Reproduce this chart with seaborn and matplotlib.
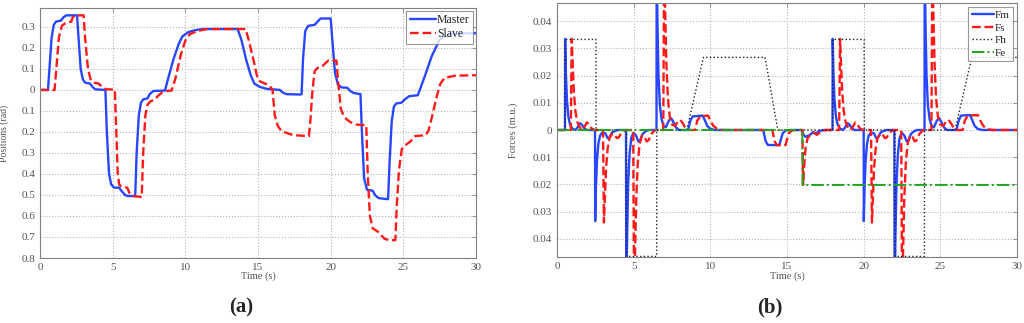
import matplotlib
matplotlib.use("Agg")
import matplotlib.pyplot as plt
import seaborn as sns

# ==================== DATA ====================
# (time [s], value) vertices

master_pts = [
    (0, 0), (0.55, 0), (0.65, 0.1), (0.8, 0.25), (0.95, 0.31), (1.1, 0.325),
    (1.45, 0.33), (1.6, 0.345), (1.8, 0.355), (2.55, 0.355), (2.65, 0.25),
    (2.8, 0.1), (2.95, 0.05), (3.1, 0.035), (3.45, 0.03), (3.6, 0.015),
    (3.8, 0.003), (4.5, 0), (4.6, -0.2), (4.75, -0.4), (4.9, -0.45),
    (5.1, -0.465), (5.45, -0.465), (5.6, -0.48), (5.85, -0.5), (6.0, -0.505),
    (6.55, -0.505), (6.65, -0.3), (6.8, -0.12), (6.95, -0.06), (7.1, -0.045),
    (7.4, -0.04), (7.55, -0.02), (7.8, -0.005), (8.6, -0.003), (8.8, 0.05),
    (9.2, 0.15), (9.55, 0.22), (9.8, 0.255), (10.2, 0.275), (10.7, 0.285),
    (11.2, 0.29), (13.6, 0.29), (13.85, 0.24), (14.2, 0.14), (14.5, 0.07),
    (14.75, 0.03), (15.1, 0.015), (15.6, 0.005), (16.5, 0.0), (16.7, -0.012),
    (16.95, -0.02), (17.9, -0.022), (18.0, -0.02), (18.1, 0.15), (18.25, 0.28),
    (18.45, 0.305), (18.9, 0.31), (19.1, 0.325), (19.3, 0.34), (20.0, 0.34),
    (20.1, 0.25), (20.3, 0.08), (20.5, 0.025), (20.75, 0.012), (21.15, 0.01),
    (21.35, -0.005), (21.6, -0.015), (22.05, -0.02), (22.15, -0.2),
    (22.3, -0.42), (22.5, -0.475), (22.9, -0.48), (23.05, -0.5), (23.3, -0.515),
    (23.95, -0.52), (24.05, -0.35), (24.2, -0.15), (24.35, -0.08),
    (24.5, -0.065), (24.9, -0.06), (25.1, -0.045), (25.4, -0.03),
    (26.0, -0.025), (26.5, 0.07), (26.95, 0.16), (27.5, 0.24), (28.0, 0.26),
    (28.6, 0.268), (30, 0.27),
]

slave_pts = [
    (0, 0), (1.0, 0), (1.1, 0.08), (1.3, 0.25), (1.5, 0.305), (1.8, 0.32),
    (2.15, 0.325), (2.25, 0.345), (2.4, 0.355), (3.0, 0.355), (3.1, 0.25),
    (3.3, 0.1), (3.5, 0.045), (3.7, 0.035), (4.05, 0.03), (4.25, 0.015),
    (4.55, 0.003), (5.15, 0.002), (5.25, -0.2), (5.35, -0.4), (5.45, -0.45),
    (5.6, -0.46), (6.0, -0.465), (6.15, -0.49), (6.4, -0.505), (7.0, -0.51),
    (7.1, -0.3), (7.25, -0.12), (7.4, -0.07), (7.6, -0.055), (7.9, -0.045),
    (8.1, -0.03), (8.4, -0.012), (8.7, -0.005), (9.05, -0.003), (9.3, 0.05),
    (9.7, 0.17), (10.0, 0.235), (10.3, 0.265), (10.8, 0.28), (11.5, 0.29),
    (14.15, 0.29), (14.35, 0.24), (14.7, 0.14), (14.95, 0.06), (15.15, 0.04),
    (15.5, 0.03), (15.8, 0.02), (16.0, 0.0), (16.15, -0.12), (16.35, -0.17),
    (16.6, -0.195), (17.0, -0.205), (17.4, -0.215), (18.5, -0.22),
    (18.6, -0.15), (18.75, 0.0), (18.9, 0.09), (19.1, 0.105), (19.4, 0.11),
    (19.6, 0.125), (19.85, 0.14), (20.4, 0.14), (20.5, 0.05), (20.7, -0.09),
    (20.9, -0.125), (21.1, -0.14), (21.4, -0.155), (21.8, -0.165),
    (22.45, -0.168), (22.55, -0.4), (22.7, -0.6), (22.9, -0.66), (23.2, -0.672),
    (23.45, -0.69), (23.7, -0.708), (24.0, -0.715), (24.45, -0.715),
    (24.55, -0.55), (24.7, -0.38), (24.9, -0.28), (25.2, -0.26), (25.5, -0.245),
    (25.8, -0.22), (26.55, -0.215), (26.75, -0.19), (27.0, -0.12),
    (27.3, -0.03), (27.55, 0.03), (27.85, 0.058), (28.6, 0.068), (30, 0.07),
]

fm_pts = [
    (0, 0), (0.52, 0), (0.53, 0.0335), (0.58, 0.021), (0.65, 0.011),
    (0.74, 0.005), (0.85, 0.002), (1.0, 0.0005), (1.2, 0), (1.35, 0.001),
    (1.5, 0.0025), (1.62, 0.002), (1.78, 0.0006), (1.95, 0),
    (2.48, 0), (2.49, -0.0335), (2.54, -0.021), (2.61, -0.011), (2.7, -0.005),
    (2.81, -0.002), (2.95, -0.001), (3.15, -0.0012), (3.3, -0.003),
    (3.42, -0.0028), (3.58, -0.001), (3.8, -0.0003), (4.0, 0),
    (4.5, 0), (4.52, -0.065), (4.57, -0.04), (4.64, -0.02), (4.73, -0.009),
    (4.84, -0.003), (4.98, -0.001), (5.15, -0.002), (5.3, -0.0042),
    (5.42, -0.0038), (5.58, -0.0015), (5.8, -0.0004), (6.0, 0),
    (6.49, 0), (6.5, 0.065), (6.55, 0.04), (6.62, 0.02), (6.71, 0.009),
    (6.82, 0.004), (6.95, 0.0015), (7.1, 0.001), (7.3, 0.0035), (7.45, 0.0043),
    (7.58, 0.003), (7.75, 0.001), (7.95, 0),
    (8.55, 0), (8.7, 0.0035), (8.85, 0.005), (9.5, 0.0053), (9.65, 0.0035),
    (9.8, 0.0015), (10.0, 0.0004), (10.3, 0),
    (13.45, 0), (13.6, -0.004), (13.75, -0.0055), (14.5, -0.0056),
    (14.6, -0.0035), (14.72, -0.0012), (14.9, -0.0002), (15.2, 0),
    (15.97, 0), (16.05, -0.0015), (16.2, -0.0025), (16.45, -0.002),
    (16.7, -0.0008), (16.9, -0.0012), (17.1, -0.0004), (17.4, 0),
    (17.97, 0), (17.98, 0.0335), (18.03, 0.021), (18.1, 0.011), (18.19, 0.005),
    (18.3, 0.002), (18.45, 0.0005), (18.65, 0), (18.8, 0.001), (18.95, 0.0025),
    (19.07, 0.002), (19.23, 0.0006), (19.4, 0),
    (20.0, 0), (20.01, -0.0335), (20.06, -0.021), (20.13, -0.011),
    (20.22, -0.005), (20.33, -0.002), (20.47, -0.001), (20.67, -0.0012),
    (20.82, -0.003), (20.94, -0.0028), (21.1, -0.001), (21.32, -0.0003),
    (21.52, 0),
    (22.0, 0), (22.02, -0.065), (22.07, -0.04), (22.14, -0.02), (22.23, -0.009),
    (22.34, -0.003), (22.48, -0.001), (22.65, -0.002), (22.8, -0.0042),
    (22.92, -0.0038), (23.08, -0.0015), (23.3, -0.0004), (23.5, 0),
    (23.97, 0), (23.98, 0.065), (24.03, 0.04), (24.1, 0.02), (24.19, 0.009),
    (24.3, 0.004), (24.43, 0.0015), (24.58, 0.001), (24.78, 0.0035),
    (24.93, 0.0043), (25.06, 0.003), (25.23, 0.001), (25.43, 0),
    (26.05, 0), (26.2, 0.0035), (26.35, 0.0053), (26.94, 0.0055),
    (27.09, 0.0035), (27.24, 0.0015), (27.44, 0.0004), (27.74, 0), (30, 0),
]

fs_pts = [
    (0, 0), (0.9, 0), (0.96, 0.0335), (1.02, 0.025), (1.1, 0.014), (1.2, 0.007),
    (1.32, 0.003), (1.48, 0.001), (1.65, 0), (1.8, 0.0012), (1.95, 0.0028),
    (2.08, 0.0022), (2.25, 0.0006), (2.45, 0),
    (3.0, 0), (3.06, -0.034), (3.12, -0.025), (3.2, -0.014), (3.3, -0.007),
    (3.42, -0.003), (3.58, -0.0015), (3.75, -0.0015), (3.9, -0.003),
    (4.02, -0.0028), (4.2, -0.001), (4.45, 0),
    (4.97, 0), (5.03, -0.065), (5.09, -0.045), (5.17, -0.025), (5.27, -0.012),
    (5.39, -0.005), (5.55, -0.002), (5.7, -0.0025), (5.85, -0.0042),
    (5.97, -0.0038), (6.15, -0.0015), (6.4, 0),
    (6.93, 0), (6.99, 0.065), (7.05, 0.045), (7.13, 0.025), (7.23, 0.012),
    (7.35, 0.005), (7.5, 0.002), (7.7, 0.0015), (7.9, 0.0032), (8.05, 0.0037),
    (8.2, 0.0025), (8.4, 0.0005), (8.6, 0),
    (9.0, 0), (9.15, 0.0035), (9.35, 0.005), (9.85, 0.0053), (10.0, 0.0035),
    (10.2, 0.0015), (10.45, 0.0004), (10.8, 0),
    (14.05, 0), (14.18, -0.004), (14.32, -0.0055), (14.9, -0.0056),
    (15.0, -0.0035), (15.12, -0.0012), (15.3, -0.0002), (15.6, 0),
    (16.0, 0), (16.05, -0.0202), (16.12, -0.013), (16.22, -0.006),
    (16.35, -0.003), (16.55, -0.0015), (16.75, -0.001), (16.95, -0.0018),
    (17.15, -0.0008), (17.5, 0),
    (18.4, 0), (18.46, 0.0335), (18.52, 0.025), (18.6, 0.014), (18.7, 0.007),
    (18.82, 0.003), (18.98, 0.001), (19.15, 0), (19.3, 0.0012), (19.45, 0.0028),
    (19.58, 0.0022), (19.75, 0.0006), (19.95, 0),
    (20.48, 0), (20.54, -0.034), (20.6, -0.025), (20.68, -0.014),
    (20.78, -0.007), (20.9, -0.003), (21.06, -0.0015), (21.23, -0.0015),
    (21.38, -0.003), (21.5, -0.0028), (21.68, -0.001), (21.93, 0),
    (22.45, 0), (22.51, -0.065), (22.57, -0.045), (22.65, -0.025),
    (22.75, -0.012), (22.87, -0.005), (23.03, -0.002), (23.18, -0.0025),
    (23.33, -0.0042), (23.45, -0.0038), (23.63, -0.0015), (23.88, 0),
    (24.42, 0), (24.48, 0.065), (24.54, 0.045), (24.62, 0.025), (24.72, 0.012),
    (24.84, 0.005), (24.99, 0.002), (25.19, 0.0015), (25.39, 0.0032),
    (25.54, 0.0037), (25.69, 0.0025), (25.89, 0.0005), (26.09, 0),
    (26.45, 0), (26.6, 0.0035), (26.8, 0.0053), (27.45, 0.0055), (27.6, 0.0035),
    (27.8, 0.0015), (28.05, 0.0004), (28.4, 0), (30, 0),
]

fh_pts = [
    (0, 0), (0.52, 0), (0.53, 0.0333), (2.54, 0.0333), (2.55, 0), (4.53, 0),
    (4.54, -0.0465), (6.5, -0.0465), (6.51, 0), (8.46, 0), (9.55, 0.0267),
    (13.57, 0.0267), (14.4, 0), (17.97, 0), (17.98, 0.0333), (20.03, 0.0333),
    (20.04, 0), (22.04, 0), (22.05, -0.0465), (23.96, -0.0465), (23.97, 0),
    (25.96, 0), (27.05, 0.0267), (30, 0.0267),
]

fe_pts = [(0, 0), (16.0, 0), (16.01, -0.0202), (30, -0.0202)]

x_ticks = [0, 5, 10, 15, 20, 25, 30]
pos_yticks = [0.3, 0.2, 0.1, 0, -0.1, -0.2, -0.3, -0.4, -0.5, -0.6, -0.7, -0.8]
pos_ylabels = ["0.3", "0.2", "0.1", "0", "0.1", "0.2", "0.3", "0.4",
               "0.5", "0.6", "0.7", "0.8"]
frc_yticks = [0.04, 0.03, 0.02, 0.01, 0, -0.01, -0.02, -0.03, -0.04]
frc_ylabels = ["0.04", "0.03", "0.02", "0.01", "0", "0.01", "0.02",
               "0.03", "0.04"]

# ==================== STYLE ====================

sns.set_style("white")
plt.rcParams["font.family"] = ["Liberation Serif", "DejaVu Serif"]

BLUE = "#2846ff"
RED = "#ff1a1a"
GREEN = "#1fa51f"
GREY = "#808080"
TXT = "#555555"


def draw(ax, pts, **kw):
    t = [p[0] for p in pts]
    v = [p[1] for p in pts]
    sns.lineplot(x=t, y=v, ax=ax, estimator=None, sort=False, **kw)


def style_axes(ax, yticks, ylabels, ylim):
    ax.set_xlim(0, 30)
    ax.set_ylim(*ylim)
    ax.set_xticks(x_ticks)
    ax.set_xticklabels([str(x) for x in x_ticks])
    ax.set_yticks(yticks)
    ax.set_yticklabels(ylabels)
    ax.grid(True, linestyle=":", color="#b5b5b5", linewidth=0.8)
    ax.tick_params(direction="in", length=3, width=0.6, colors=GREY,
                   labelcolor=TXT, labelsize=8, top=True, right=True)
    for s in ax.spines.values():
        s.set_color(GREY)
        s.set_linewidth(0.8)


fig = plt.figure(figsize=(10.24, 3.23), dpi=100)
ax1 = fig.add_axes([40 / 1024, 1 - 258 / 323, 436 / 1024, 250 / 323])
ax2 = fig.add_axes([557 / 1024, 1 - 257 / 323, 460 / 1024, 254 / 323])

# ==================== (a) POSITIONS ====================

draw(ax1, master_pts, color=BLUE, linewidth=1.7, label="Master")
draw(ax1, slave_pts, color=RED, linewidth=1.7, linestyle="--", label="Slave")
style_axes(ax1, pos_yticks, pos_ylabels, (-0.8, 0.39))
ax1.set_xlabel("Time (s)", fontsize=7.5, color=TXT)
ax1.set_ylabel("Positions (rad)", fontsize=7, color=TXT)
ax1.xaxis.set_label_coords(0.5, -0.055)
ax1.yaxis.set_label_coords(-0.07, 0.5)
leg = ax1.legend(loc="upper right", fontsize=8.5, handlelength=2.2,
                 borderaxespad=0.25, labelspacing=0.15, handletextpad=0.1,
                 fancybox=False, borderpad=0.3)
leg.get_frame().set_edgecolor(GREY)
leg.get_frame().set_linewidth(0.8)

# ==================== (b) FORCES ====================

draw(ax2, fm_pts, color=BLUE, linewidth=1.7, label="Fm")
draw(ax2, fs_pts, color=RED, linewidth=1.7, linestyle="--", label="Fs")
draw(ax2, fh_pts, color="#222222", linewidth=1.0, linestyle=":", label="Fh")
draw(ax2, fe_pts, color=GREEN, linewidth=1.4, linestyle="-.", label="Fe")
style_axes(ax2, frc_yticks, frc_ylabels, (-0.0467, 0.0467))
ax2.set_xlabel("Time (s)", fontsize=7.5, color=TXT)
ax2.set_ylabel("Forces (m.u.)", fontsize=7.5, color=TXT)
ax2.xaxis.set_label_coords(0.5, -0.055)
ax2.yaxis.set_label_coords(-0.085, 0.5)
leg = ax2.legend(loc="upper right", fontsize=8, handlelength=2.0,
                 borderaxespad=0.35, labelspacing=0.25, handletextpad=0.1,
                 fancybox=False, borderpad=0.3)
leg.get_frame().set_edgecolor(GREY)
leg.get_frame().set_linewidth(0.8)

# panel tags
fig.text(241 / 1024, 1 - 307 / 323, "(a)", fontsize=15, fontweight="bold",
         ha="center", va="center")
fig.text(770 / 1024, 1 - 307 / 323, "(b)", fontsize=15, fontweight="bold",
         ha="center", va="center")

fig.savefig("out.png", dpi=100)
